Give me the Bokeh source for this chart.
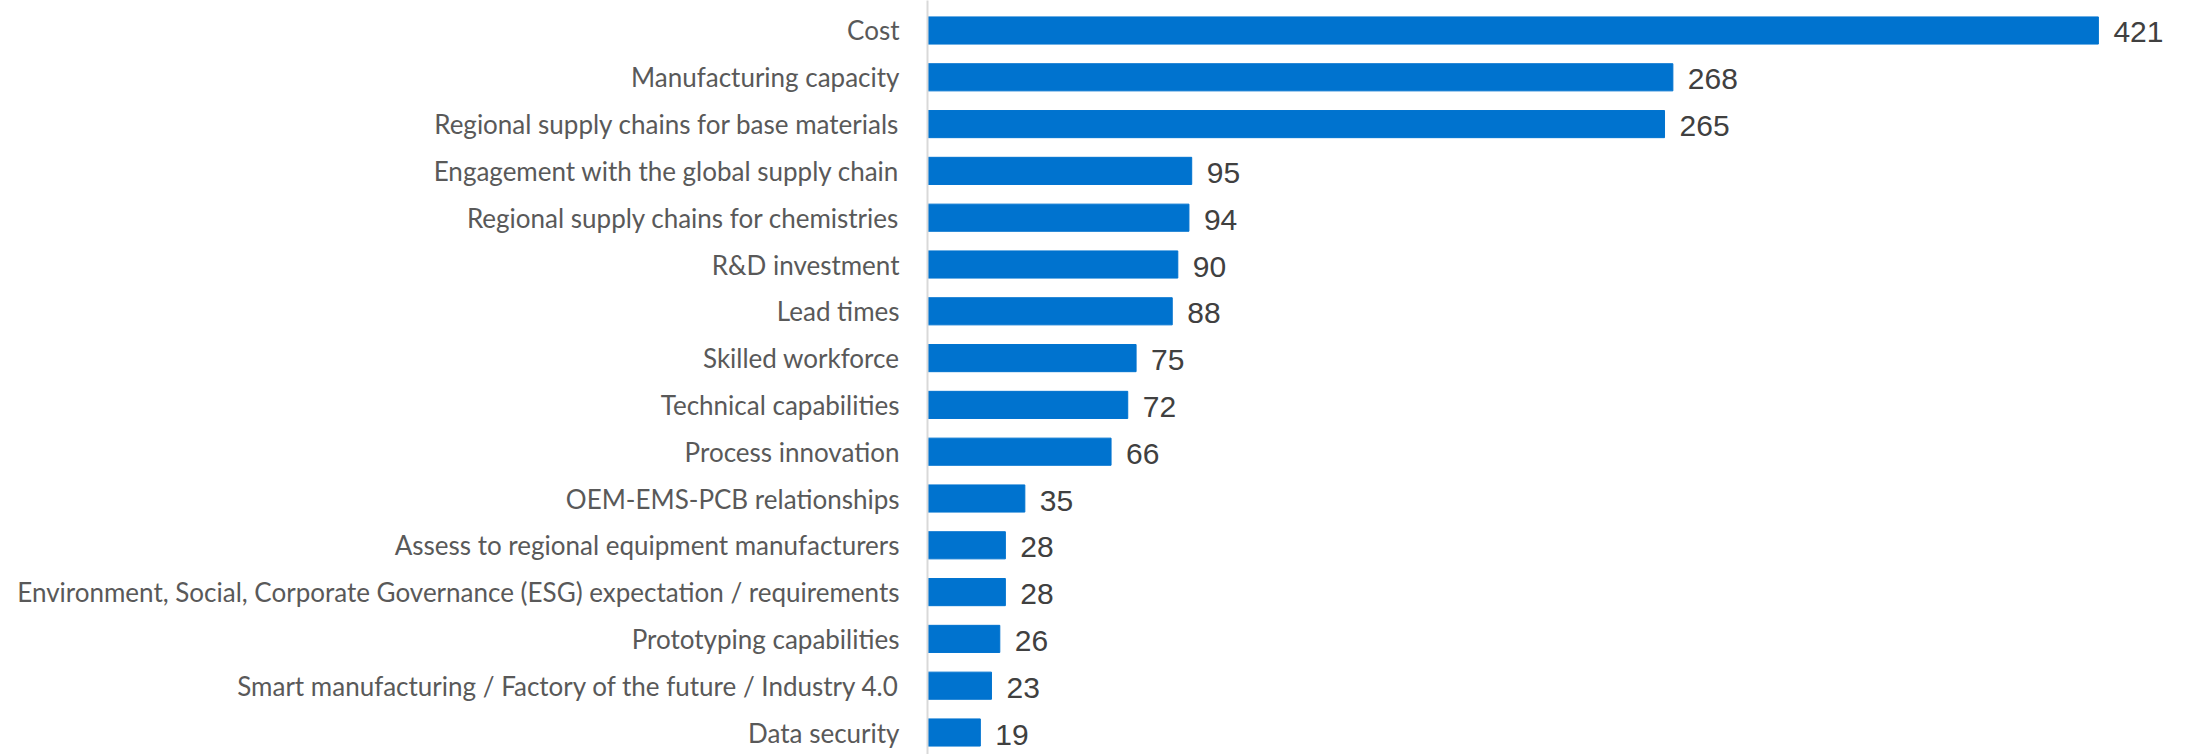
from bokeh.plotting import figure
from bokeh.models import ColumnDataSource, Range1d, FixedTicker
from bokeh.core.properties import value
from bokeh.embed import file_html
from bokeh.resources import INLINE

categories = [
    "Cost",
    "Manufacturing capacity",
    "Regional supply chains for base materials",
    "Engagement with the global supply chain",
    "Regional supply chains for chemistries",
    "R&D investment",
    "Lead times",
    "Skilled workforce",
    "Technical capabilities",
    "Process innovation",
    "OEM-EMS-PCB relationships",
    "Assess to regional equipment manufacturers",
    "Environment, Social, Corporate Governance (ESG) expectation / requirements",
    "Prototyping capabilities",
    "Smart manufacturing / Factory of the future / Industry 4.0",
    "Data security",
]
counts = [421, 268, 265, 95, 94, 90, 88, 75, 72, 66, 35, 28, 28, 26, 23, 19]

n = len(categories)
ypos = [n - 1 - i for i in range(n)]

src = ColumnDataSource(dict(y=ypos, v=counts, lbl=[str(c) for c in counts], cat=categories))

p = figure(width=2188, height=754, output_backend="svg", toolbar_location=None,
           x_range=Range1d(0, 453.4), y_range=Range1d(-0.470, 15.641),
           min_border_left=927, min_border_right=0, min_border_top=0, min_border_bottom=0)
p.outline_line_color = None
p.xgrid.visible = False
p.ygrid.visible = False
p.xaxis.visible = False

p.hbar(y="y", right="v", left=0, height=0.58, source=src, color="#0073CF")
p.text(x="v", y="y", text="lbl", source=src, x_offset=15, y_offset=2,
       text_baseline="middle", text_align="left",
       text_font=value("Liberation Sans"), text_font_size="30px", text_color="#404040")

ax = p.yaxis[0]
ax.ticker = FixedTicker(ticks=ypos)
ax.major_label_overrides = {y: c for y, c in zip(ypos, categories)}
ax.major_tick_out = 0
ax.major_tick_in = 0
ax.minor_tick_out = 0
ax.minor_tick_in = 0
ax.major_label_standoff = 28
ax.axis_line_color = "#d9d9d9"
ax.axis_line_width = 2
ax.major_label_text_font = "Lato"
ax.major_label_text_font_size = "26px"
ax.major_label_text_color = "#595959"

open("out.html", "w").write(file_html(p, INLINE))
